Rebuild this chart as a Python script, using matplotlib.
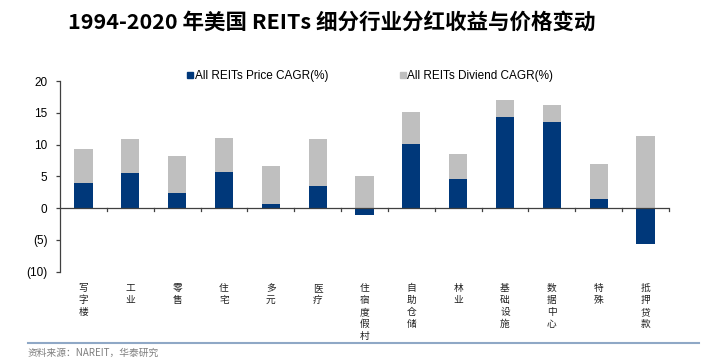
import matplotlib
matplotlib.use("Agg")
import matplotlib.pyplot as plt
from matplotlib.lines import Line2D
import numpy as np

plt.rcParams['font.family'] = ['Liberation Sans', 'Noto Sans CJK SC', 'DejaVu Sans']

categories = ['写字楼', '工业', '零售', '住宅', '多元', '医疗', '住宿度假村',
              '自助仓储', '林业', '基础设施', '数据中心', '特殊', '抵押贷款']
price_cagr = [4.0, 5.6, 2.45, 5.75, 0.6, 3.55, -1.1, 10.05, 4.6, 14.3, 13.6, 1.45, -5.65]
dividend_cagr = [5.3, 5.3, 5.75, 5.35, 6.1, 7.25, 5.0, 5.05, 3.85, 2.7, 2.6, 5.55, 11.35]
yticks = [-10, -5, 0, 5, 10, 15, 20]
ytick_labels = ['(10)', '(5)', '0', '5', '10', '15', '20']

navy = '#00387A'
gray = '#BFBFBF'
axis_col = '#404040'

fig = plt.figure(figsize=(7.1, 3.64), dpi=100)
ax = fig.add_axes([60 / 710, 1 - 271.7 / 364, 609 / 710, (271.7 - 81) / 364])

x = np.arange(len(categories))
price = np.array(price_cagr)
div = np.array(dividend_cagr)
bottom = np.where(price > 0, price, 0)
w = 0.39
ax.bar(x, price, width=w, color=navy, zorder=2)
ax.bar(x, div, width=w, bottom=bottom, color=gray, zorder=2)

ax.set_xlim(-0.5, len(categories) - 0.5)
ax.set_ylim(-10, 20)
ax.set_yticks(yticks)
ax.set_yticklabels(ytick_labels, fontsize=8.5)
for s in ['top', 'right', 'bottom']:
    ax.spines[s].set_visible(False)
ax.spines['left'].set_color(axis_col)
ax.spines['left'].set_linewidth(0.9)
ax.tick_params(axis='y', direction='out', length=3, width=0.9, color=axis_col, pad=6)

# x axis at zero with ticks between categories
ax.axhline(0, color=axis_col, linewidth=0.9, zorder=3)
ax.set_xticks([])
for b in np.arange(-0.5, len(categories), 1.0)[1:]:
    ax.plot([b, b], [0, -0.5], color=axis_col, linewidth=0.9, zorder=3, clip_on=False)

# vertical category labels
for i, c in enumerate(categories):
    ax.annotate('\n'.join(c), xy=(i, -10), xycoords='data',
                xytext=(0, -8), textcoords='offset points',
                ha='center', va='top', fontsize=7, linespacing=1.25,
                family=['Noto Sans CJK SC'], color='#222222')

# legend
h1 = Line2D([], [], marker='s', linestyle='none', color=navy, markersize=5)
h2 = Line2D([], [], marker='s', linestyle='none', color=gray, markersize=5)
fig.legend([h1, h2], ['All REITs Price CAGR(%)', 'All REITs Diviend CAGR(%)'],
           loc='center', bbox_to_anchor=(370 / 710, 1 - 76 / 364), ncol=2,
           frameon=False, fontsize=8.5, handlelength=0.6, handletextpad=0.1,
           columnspacing=6.0, borderpad=0)

# title
fig.text(68 / 710, 1 - 22 / 364, '1994-2020 年美国 REITs 细分行业分红收益与价格变动',
         fontsize=15.5, fontweight='bold', va='center', ha='left',
         family=['Noto Sans CJK SC'])

# source line and text
fig.add_artist(Line2D([28 / 710, 699 / 710], [1 - 343 / 364, 1 - 343 / 364],
                      color='#8FA8C6', linewidth=1.5))
fig.text(28 / 710, 1 - 353 / 364, '资料来源：NAREIT，华泰研究', fontsize=7,
         color='#7F7F7F', va='center', ha='left',
         family=['Noto Sans CJK SC', 'Liberation Sans'])

fig.savefig('out.png', dpi=100)
